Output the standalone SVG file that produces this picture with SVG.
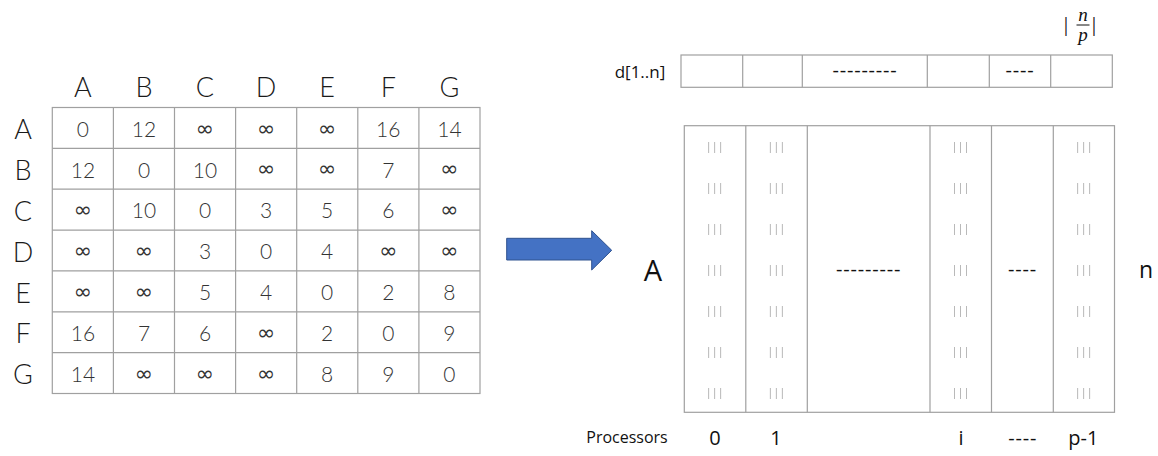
<svg xmlns="http://www.w3.org/2000/svg" width="1158" height="456" viewBox="0 0 1158 456">
<defs>
  <filter id="gray" x="0" y="0" width="1" height="1">
    <feColorMatrix type="saturate" values="0"/>
  </filter>
</defs>
<style>
.grid{fill:none;stroke:#a0a0a0;stroke-width:1.2}
.hdr{font-family:Lato,"Noto Sans",sans-serif;font-weight:300;font-size:27px;fill:#1a1a1a;text-anchor:middle}
.cell{font-family:Lato,"Noto Sans",sans-serif;font-weight:300;font-size:21px;fill:#333;text-anchor:middle}
.inf{font-family:"DejaVu Sans",sans-serif;font-size:22px;fill:#333;text-anchor:middle}
.lbl{font-family:"Open Sans","Noto Sans",sans-serif;fill:#111;text-anchor:middle}
.tick{font-family:"Open Sans",sans-serif;font-size:10px;fill:#9a9a9a;text-anchor:middle;letter-spacing:0.5px}
.dash{font-family:"Open Sans",sans-serif;font-size:20px;fill:#111;text-anchor:middle;letter-spacing:0.8px}
.math{font-family:"Liberation Serif",serif;font-style:italic;font-size:19px;fill:#111;text-anchor:middle}
.bar{font-family:"Liberation Serif",serif;font-size:22px;fill:#111;text-anchor:middle}
</style>

<g id="matrix">
  <rect class="grid" x="52.3" y="107.5" width="427.7" height="286"/>
  <path class="grid" d="M113.4 107.5V393.5M174.5 107.5V393.5M235.6 107.5V393.5M296.7 107.5V393.5M357.8 107.5V393.5M418.9 107.5V393.5M52.3 148.4H480M52.3 189.2H480M52.3 230.1H480M52.3 270.9H480M52.3 311.8H480M52.3 352.6H480"/>
  <g id="col-headers">
    <text class="hdr" x="82.9" y="97">A</text>
    <text class="hdr" x="144" y="97">B</text>
    <text class="hdr" x="205" y="97">C</text>
    <text class="hdr" x="266.1" y="97">D</text>
    <text class="hdr" x="327.2" y="97">E</text>
    <text class="hdr" x="388.3" y="97">F</text>
    <text class="hdr" x="449.4" y="97">G</text>
  </g>
  <g id="row-headers">
    <text class="hdr" x="23" y="139">A</text>
    <text class="hdr" x="23" y="180">B</text>
    <text class="hdr" x="23" y="220.8">C</text>
    <text class="hdr" x="23" y="261.7">D</text>
    <text class="hdr" x="23" y="302.5">E</text>
    <text class="hdr" x="23" y="343.4">F</text>
    <text class="hdr" x="23" y="384.2">G</text>
  </g>
  <g id="cells">
    <text class="cell" x="82.9" y="136.6">0</text>
    <text class="cell" x="144" y="136.6">12</text>
    <text class="inf" x="205" y="135.5">∞</text>
    <text class="inf" x="266.1" y="135.5">∞</text>
    <text class="inf" x="327.2" y="135.5">∞</text>
    <text class="cell" x="388.3" y="136.6">16</text>
    <text class="cell" x="449.4" y="136.6">14</text>

    <text class="cell" x="82.9" y="177.5">12</text>
    <text class="cell" x="144" y="177.5">0</text>
    <text class="cell" x="205" y="177.5">10</text>
    <text class="inf" x="266.1" y="176.4">∞</text>
    <text class="inf" x="327.2" y="176.4">∞</text>
    <text class="cell" x="388.3" y="177.5">7</text>
    <text class="inf" x="449.4" y="176.4">∞</text>

    <text class="inf" x="82.9" y="217.2">∞</text>
    <text class="cell" x="144" y="218.3">10</text>
    <text class="cell" x="205" y="218.3">0</text>
    <text class="cell" x="266.1" y="218.3">3</text>
    <text class="cell" x="327.2" y="218.3">5</text>
    <text class="cell" x="388.3" y="218.3">6</text>
    <text class="inf" x="449.4" y="217.2">∞</text>

    <text class="inf" x="82.9" y="258.1">∞</text>
    <text class="inf" x="144" y="258.1">∞</text>
    <text class="cell" x="205" y="259.2">3</text>
    <text class="cell" x="266.1" y="259.2">0</text>
    <text class="cell" x="327.2" y="259.2">4</text>
    <text class="inf" x="388.3" y="258.1">∞</text>
    <text class="inf" x="449.4" y="258.1">∞</text>

    <text class="inf" x="82.9" y="298.9">∞</text>
    <text class="inf" x="144" y="298.9">∞</text>
    <text class="cell" x="205" y="300">5</text>
    <text class="cell" x="266.1" y="300">4</text>
    <text class="cell" x="327.2" y="300">0</text>
    <text class="cell" x="388.3" y="300">2</text>
    <text class="cell" x="449.4" y="300">8</text>

    <text class="cell" x="82.9" y="340.9">16</text>
    <text class="cell" x="144" y="340.9">7</text>
    <text class="cell" x="205" y="340.9">6</text>
    <text class="inf" x="266.1" y="339.8">∞</text>
    <text class="cell" x="327.2" y="340.9">2</text>
    <text class="cell" x="388.3" y="340.9">0</text>
    <text class="cell" x="449.4" y="340.9">9</text>

    <text class="cell" x="82.9" y="381.7">14</text>
    <text class="inf" x="144" y="380.6">∞</text>
    <text class="inf" x="205" y="380.6">∞</text>
    <text class="inf" x="266.1" y="380.6">∞</text>
    <text class="cell" x="327.2" y="381.7">8</text>
    <text class="cell" x="388.3" y="381.7">9</text>
    <text class="cell" x="449.4" y="381.7">0</text>
  </g>
</g>

<g id="connectors">
  <polygon points="506.7,238.3 591.7,238.3 591.7,230.7 611.7,250.3 591.7,270 591.7,260 506.7,260" fill="#4472C4" stroke="#2F528F" stroke-width="1"/>
</g>

<g id="d-array">
  <text class="lbl" x="640" y="78" font-size="17">d[1..n]</text>
  <rect class="grid" x="681" y="55" width="431.3" height="32.3"/>
  <path class="grid" d="M742.7 55V87.3M802.3 55V87.3M927.3 55V87.3M989.3 55V87.3M1050.7 55V87.3"/>
  <text class="dash" x="865" y="77">---------</text>
  <text class="dash" x="1020" y="77">----</text>
</g>

<g id="n-over-p">
  <text class="bar" x="1066" y="31">|</text>
  <text class="math" x="1083" y="21">n</text>
  <line x1="1076.5" y1="25" x2="1089.5" y2="25" stroke="#111" stroke-width="1"/>
  <text class="math" x="1083" y="41">p</text>
  <text class="bar" x="1094" y="31">|</text>
</g>

<g id="block-matrix">
  <text class="lbl" x="653" y="281" font-size="29">A</text>
  <rect class="grid" x="684.3" y="125.7" width="430.2" height="286.6"/>
  <path class="grid" d="M745.8 125.7V412.3M807.3 125.7V412.3M930 125.7V412.3M991.5 125.7V412.3M1053.3 125.7V412.3"/>
  <g id="ticks" filter="url(#gray)">
    <text class="tick" x="715" y="150">|||</text><text class="tick" x="776.5" y="150">|||</text><text class="tick" x="960.7" y="150">|||</text><text class="tick" x="1084" y="150">|||</text>
    <text class="tick" x="715" y="191">|||</text><text class="tick" x="776.5" y="191">|||</text><text class="tick" x="960.7" y="191">|||</text><text class="tick" x="1084" y="191">|||</text>
    <text class="tick" x="715" y="231.9">|||</text><text class="tick" x="776.5" y="231.9">|||</text><text class="tick" x="960.7" y="231.9">|||</text><text class="tick" x="1084" y="231.9">|||</text>
    <text class="tick" x="715" y="272.8">|||</text><text class="tick" x="776.5" y="272.8">|||</text><text class="tick" x="960.7" y="272.8">|||</text><text class="tick" x="1084" y="272.8">|||</text>
    <text class="tick" x="715" y="313.7">|||</text><text class="tick" x="776.5" y="313.7">|||</text><text class="tick" x="960.7" y="313.7">|||</text><text class="tick" x="1084" y="313.7">|||</text>
    <text class="tick" x="715" y="354.6">|||</text><text class="tick" x="776.5" y="354.6">|||</text><text class="tick" x="960.7" y="354.6">|||</text><text class="tick" x="1084" y="354.6">|||</text>
    <text class="tick" x="715" y="395.5">|||</text><text class="tick" x="776.5" y="395.5">|||</text><text class="tick" x="960.7" y="395.5">|||</text><text class="tick" x="1084" y="395.5">|||</text>
  </g>
  <text class="dash" x="868.6" y="276">---------</text>
  <text class="dash" x="1022.5" y="276">----</text>
  <text class="lbl" x="1146" y="278" font-size="23">n</text>
</g>

<g id="processors">
  <text class="lbl" x="627" y="443" font-size="16">Processors</text>
  <text class="lbl" x="715" y="445" font-size="20">0</text>
  <text class="lbl" x="776" y="445" font-size="20">1</text>
  <text class="lbl" x="961" y="445" font-size="20">i</text>
  <text class="lbl" x="1022.7" y="445" font-size="20" letter-spacing="0.8">----</text>
  <text class="lbl" x="1083.3" y="445" font-size="20">p-1</text>
</g>
</svg>
